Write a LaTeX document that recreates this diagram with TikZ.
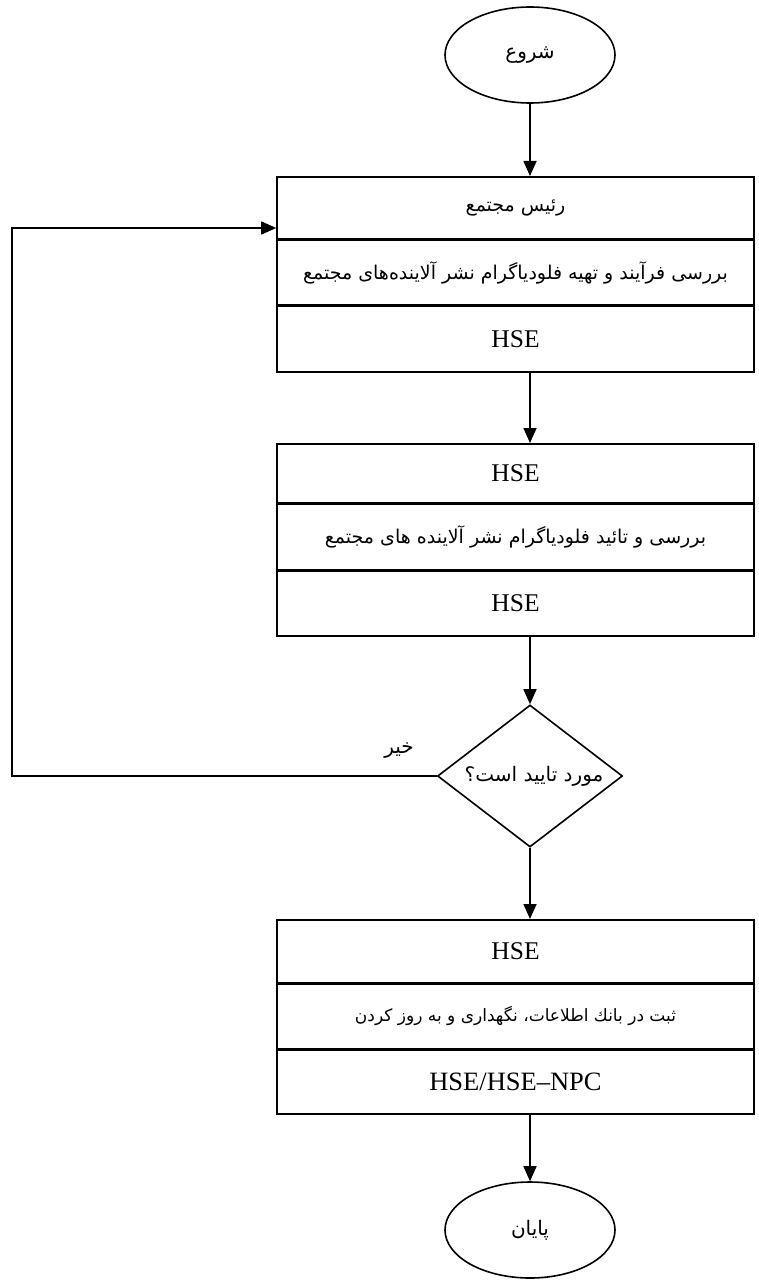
\documentclass[tikz,border=0pt]{standalone}
\usepackage{fontspec}
\setmainfont{Liberation Serif}
\newfontfamily\fa[Script=Arabic]{DejaVu Sans}
\TeXXeTstate=1
\usetikzlibrary{arrows.meta,shapes.geometric}
\newcommand{\fatext}[2][19]{{\fa\fontsize{#1}{23}\selectfont\beginR #2\endR}}
\newcommand{\latext}[1]{{\fontsize{25.5}{30}\selectfont #1}}
\begin{document}
\begin{tikzpicture}[x=1pt,y=-1pt,line width=1.6pt,
  cell/.style={draw, minimum width=477pt, inner sep=0pt, anchor=north},
  term/.style={draw, ellipse, minimum width=170pt, minimum height=96pt, inner sep=0pt},
  decision/.style={draw, diamond, minimum width=185pt, minimum height=142pt, inner sep=0pt},
  arr/.style={-{Triangle[length=15pt,width=13pt]}},
  lbl/.style={inner sep=0pt}]
\useasboundingbox (0,0) rectangle (759,1281);

% start
\node[term] (start) at (530,55) {\fatext[20]{شروع}};

% box 1
\node[cell, minimum height=62pt] (b1a) at (515.5,176) {\fatext{رئیس مجتمع}};
\node[cell, minimum height=64pt] (b1b) at (b1a.south) {\fatext{بررسی فرآیند و تهیه فلودیاگرام نشر آلاینده‌های مجتمع}};
\node[cell, minimum height=66pt] (b1c) at (b1b.south) {\latext{HSE}};

% box 2
\node[cell, minimum height=59pt] (b2a) at (515.5,443) {\latext{HSE}};
\node[cell, minimum height=65pt] (b2b) at (b2a.south) {\fatext{بررسی و تائید فلودیاگرام نشر آلاینده های مجتمع}};
\node[cell, minimum height=65pt] (b2c) at (b2b.south) {\latext{HSE}};

% decision
\node[decision] (dec) at (530,776) {\makebox[0pt]{\hspace{8pt}\fatext[20]{مورد تایید است؟}}};

% box 3
\node[cell, minimum height=63pt] (b3a) at (515.5,919) {\latext{HSE}};
\node[cell, minimum height=64pt] (b3b) at (b3a.south) {\fatext[17]{ثبت در بانك اطلاعات، نگهداری و به روز کردن}};
\node[cell, minimum height=64pt] (b3c) at (b3b.south) {{\fontsize{26.5}{30}\selectfont HSE/HSE–NPC}};

% end
\node[term] (stop) at (530,1230) {\fatext[20]{پایان}};

% connectors
\draw[arr] (start.south) -- (start.south |- b1a.north);
\draw[arr] (start.south |- b1c.south) -- (start.south |- b2a.north);
\draw[arr] (start.south |- b2c.south) -- (dec.north);
\draw[arr] (dec.south) -- (dec.south |- b3a.north);
\draw[arr] (stop.north |- b3c.south) -- (stop.north);

% feedback loop
\coordinate (ret) at (12,228);
\draw[arr] (dec.west) -| (ret) -- (ret -| b1a.west);
\node[lbl] (no) at (399,751) {\fatext[20]{خیر}};
\end{tikzpicture}
\end{document}
